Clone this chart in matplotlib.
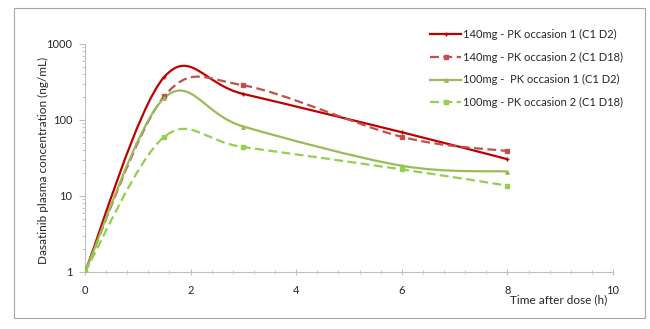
import numpy as np
import matplotlib
matplotlib.use('Agg')
import matplotlib.pyplot as plt
from matplotlib.path import Path
from matplotlib.patches import PathPatch, Rectangle
from matplotlib.lines import Line2D
from matplotlib.ticker import MultipleLocator, LogLocator, NullFormatter, FixedLocator, FixedFormatter

plt.rcParams['font.family'] = ['Lato', 'DejaVu Sans']

# ---- data ----
hours = [0, 1.5, 3, 6, 8]
conc_140_d2 = [1, 368, 220, 69, 30.5]
conc_140_d18 = [1, 205, 286, 60, 39]
conc_100_d2 = [1, 195, 82, 25, 21]
conc_100_d18 = [1, 60, 44, 22.4, 13.7]

labels = ["140mg - PK occasion 1 (C1 D2)",
          "140mg - PK occasion 2 (C1 D18)",
          "100mg -  PK occasion 1 (C1 D2)",
          "100mg - PK occasion 2 (C1 D18)"]
series = [conc_140_d2, conc_140_d18, conc_100_d2, conc_100_d18]
colors = ['#C00000', '#C0504D', '#9BBB59', '#92D050']
styles = ['-', (0, (4, 2)), '-', (0, (4, 2))]
markers = ['+', 's', '^', 's']
msizes = [3, 2.5, 2.5, 2.5]


def smooth_path(x, y):
    # Excel-like smoothed line: bezier control points built in log space
    lx = np.asarray(x, float)
    ly = np.log10(np.asarray(y, float))
    n = len(lx)
    verts = [(lx[0], ly[0])]
    codes = [Path.MOVETO]
    for i in range(n - 1):
        p0 = max(i - 1, 0)
        p3 = min(i + 2, n - 1)
        c1 = (lx[i] + (lx[i + 1] - lx[p0]) / 6, ly[i] + (ly[i + 1] - ly[p0]) / 6)
        c2 = (lx[i + 1] - (lx[p3] - lx[i]) / 6, ly[i + 1] - (ly[p3] - ly[i]) / 6)
        verts += [c1, c2, (lx[i + 1], ly[i + 1])]
        codes += [Path.CURVE4] * 3
    verts = [(vx, 10 ** vy) for vx, vy in verts]
    return Path(verts, codes)


fig = plt.figure(figsize=(6.5, 3.29), dpi=100)
ax = fig.add_axes([85 / 650, 1 - 272 / 329, (613 - 85) / 650, (272 - 44) / 329])
ax.set_yscale('log')
ax.set_xlim(0, 10)
ax.set_ylim(1, 1000)

handles = []
for y, c, ls, m, ms, lab in zip(series, colors, styles, markers, msizes, labels):
    patch = PathPatch(smooth_path(hours, y), fill=False, edgecolor=c, lw=1.6,
                      linestyle=ls, capstyle='butt', zorder=3)
    ax.add_patch(patch)
    ax.plot(hours, y, ls='none', marker=m, ms=ms, color=c, mec=c, mew=1, zorder=4)
    handles.append(Line2D([], [], color=c, lw=1.6, ls=ls, marker=m, ms=ms, mew=1))

# axes look
for s in ['top', 'right']:
    ax.spines[s].set_visible(False)
for s in ['left', 'bottom']:
    ax.spines[s].set_color('#BFBFBF')
    ax.spines[s].set_linewidth(0.8)

ax.xaxis.set_major_locator(MultipleLocator(2))
ax.xaxis.set_minor_locator(MultipleLocator(0.4))
ax.yaxis.set_major_locator(FixedLocator([1, 10, 100, 1000]))
ax.yaxis.set_major_formatter(FixedFormatter(['1', '10', '100', '1000']))
ax.yaxis.set_minor_locator(LogLocator(base=10, subs=np.arange(2, 10)))
ax.yaxis.set_minor_formatter(NullFormatter())
ax.tick_params(which='both', color='#BFBFBF', labelsize=8, labelcolor='#262626')
ax.tick_params(axis='x', which='major', length=4, direction='inout', pad=7)
ax.tick_params(axis='x', which='minor', length=3, direction='inout')
ax.tick_params(axis='y', which='major', length=4, direction='out', pad=5)
ax.tick_params(axis='y', which='minor', length=2.5, direction='out')

fig.text(43 / 650, 1 - 160 / 329, 'Dasatinib plasma concentration (ng/mL)', rotation=90,
         ha='center', va='center', fontsize=8.5, color='#262626')
fig.text(607 / 650, 1 - 300 / 329, 'Time after dose (h)', ha='right', va='center',
         fontsize=8.5, color='#262626')

fig.legend(handles, labels, loc='upper left', bbox_to_anchor=(430 / 650, 1 - 29 / 329),
           frameon=False, fontsize=8, handlelength=2.8, handletextpad=0.2,
           labelspacing=1.05, borderpad=0, borderaxespad=0, labelcolor='#262626')

fig.add_artist(Rectangle((14 / 650, 1 - 318 / 329), (645 - 14) / 650, (318 - 8) / 329,
                         transform=fig.transFigure, fill=False, ec='#A6A6A6', lw=0.8))

fig.savefig('out.png', dpi=100)
